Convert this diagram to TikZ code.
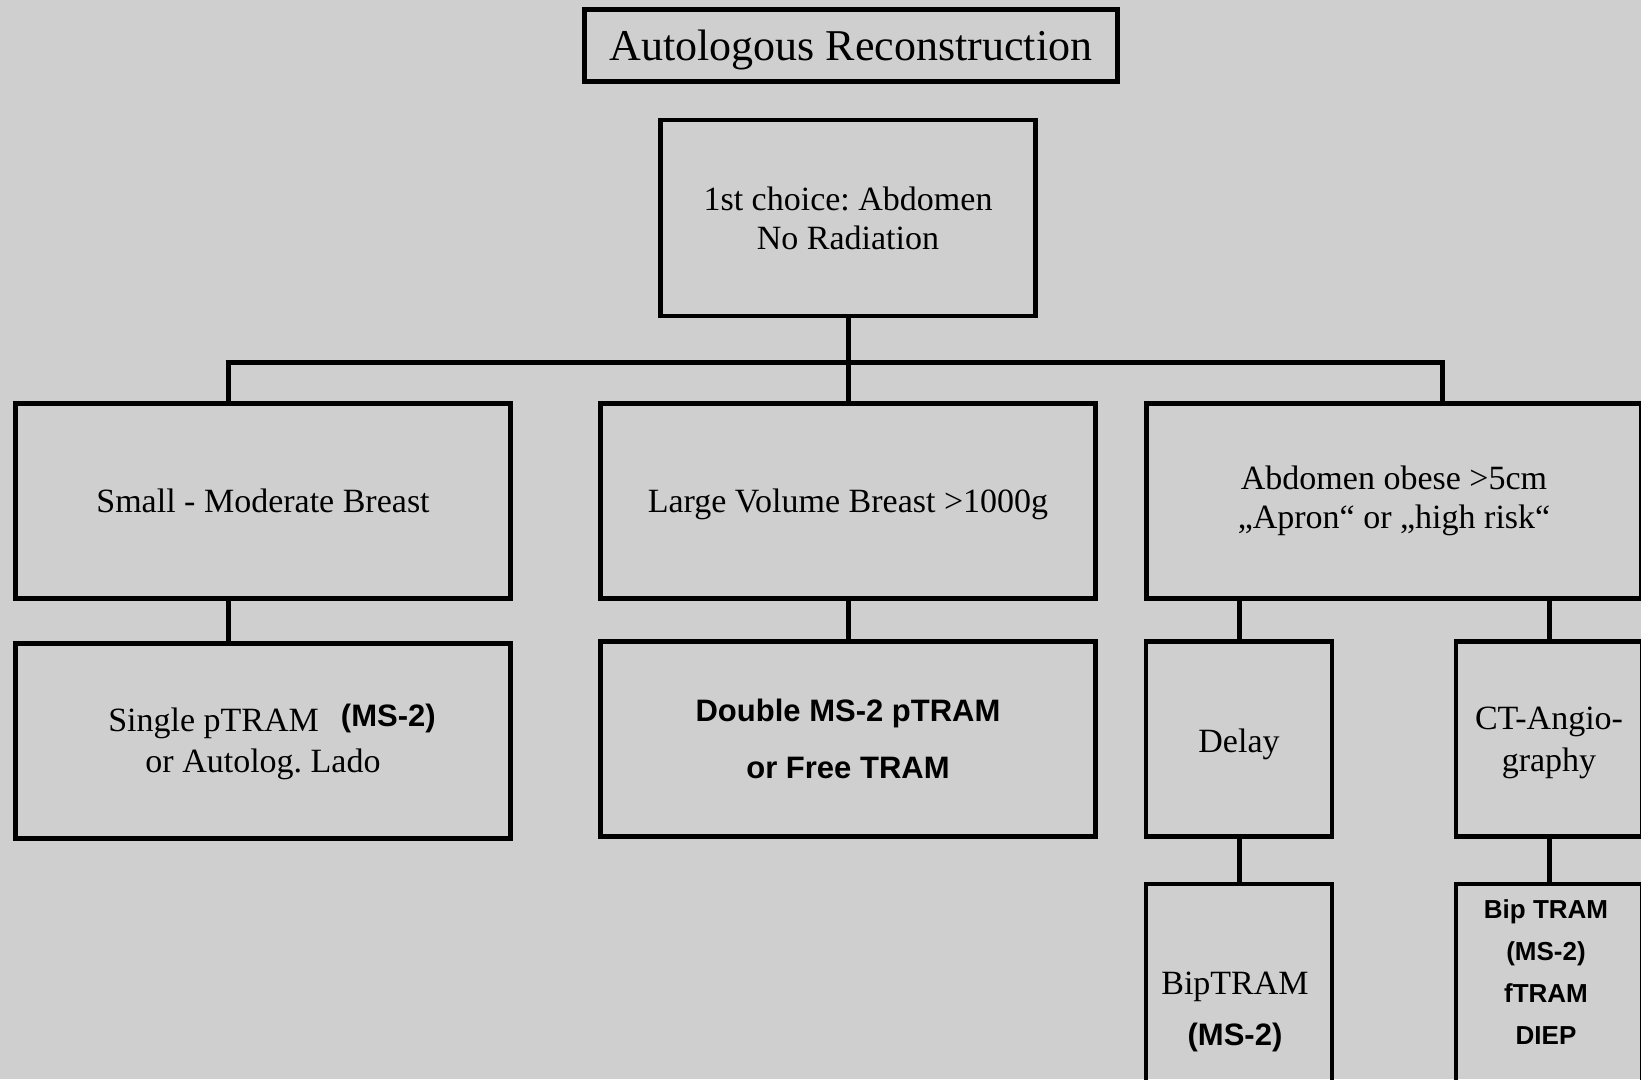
\documentclass[tikz,border=0pt]{standalone}
\usepackage{fontspec}
\setmainfont{Liberation Serif}
\newfontfamily\sansfont{Liberation Sans}
\definecolor{bg}{RGB}{207,207,207}
\newcommand\serifsz{\frenchspacing\fontsize{34}{39}\selectfont}
\newcommand\serifwide{\frenchspacing\fontsize{34}{42}\selectfont}
\newcommand\titlesz{\fontsize{44}{50}\selectfont}
\newcommand\sansbold{\sansfont\bfseries\fontsize{31}{57}\selectfont}
\newcommand\sanssmall{\sansfont\bfseries\fontsize{26}{42}\selectfont}
\newcommand\dropby[2]{\raisebox{-#1}[\height][\depth]{#2}}
\begin{document}
\begin{tikzpicture}[x=1pt,y=-1pt,
  box/.style={draw=black,line width=4.5pt,rectangle,inner sep=0pt,align=center,font=\serifsz},
  wide/.style={minimum width=495pt,minimum height=195pt},
  narrow/.style={minimum width=186pt,minimum height=195pt},
  conn/.style={draw=black,line width=5pt},
  txt/.style={inner sep=0pt,align=center}]
\fill[bg] (0,0) rectangle (1641,1079);
\useasboundingbox (0,0) rectangle (1641,1079);
\clip (0,0) rectangle (1641,1079);

\node[box,line width=5.5pt,minimum width=533pt,minimum height=72pt,font=\titlesz] (title) at (851,45.5) {\dropby{4pt}{Autologous Reconstruction}};
\node[box,minimum width=375pt,minimum height=196pt] (root) at (848,218) {1st choice: Abdomen\\No Radiation};

\node[box,wide] (l2a) at (263,501) {Small - Moderate Breast};
\node[box,wide] (l2b) at (848,501) {\dropby{3pt}{Large Volume Breast >1000g}};
\node[box,wide] (l2c) at (1394,501) {Abdomen obese >5cm\\„Apron“ or „high risk“};

\node[box,wide,font=\serifwide] (l3a) at (263,741) {\dropby{3pt}{\hspace*{18pt}Single pTRAM\hspace{22pt}\raisebox{5pt}[\height][\depth]{\sansbold(MS-2)}}\\\dropby{2pt}{or Autolog. Lado}};
\node[box,wide,font=\sansbold] (l3b) at (848,739) {Double MS-2 pTRAM\\or Free TRAM};
\node[box,narrow] (l3c) at (1239,739) {\dropby{5pt}{Delay}};
\node[box,narrow,font=\serifwide] (l3d) at (1549,739) {\dropby{4pt}{CT-Angio-}\\\dropby{4pt}{graphy}};

\node[box,minimum width=186pt,minimum height=236pt] (l4a) at (1239,1002) {};
\node[box,minimum width=186pt,minimum height=236pt] (l4b) at (1549,1002) {};
\node[txt,font=\serifsz] (t4a) at (1235,1012) {BipTRAM\\[12pt]{\sansbold(MS-2)}};
\node[txt,font=\sanssmall] (t4b) at (1546,972) {Bip TRAM\\(MS-2)\\fTRAM\\DIEP};

\coordinate (bus) at (848,362);
\draw[conn] (root.south) -- (bus);
\draw[conn] ([xshift=-35pt]l2a.north) |- (bus) -| ([xshift=48pt]l2c.north);
\draw[conn] (bus) -- (l2b.north);
\draw[conn] ([xshift=-35pt]l2a.south) -- ([xshift=-35pt]l3a.north);
\draw[conn] (l2b.south) -- (l3b.north);
\draw[conn] (l2c.south -| l3c.north) -- (l3c.north);
\draw[conn] (l2c.south -| l3d.north) -- (l3d.north);
\draw[conn] (l3c.south) -- (l4a.north);
\draw[conn] (l3d.south) -- (l4b.north);
\end{tikzpicture}
\end{document}
